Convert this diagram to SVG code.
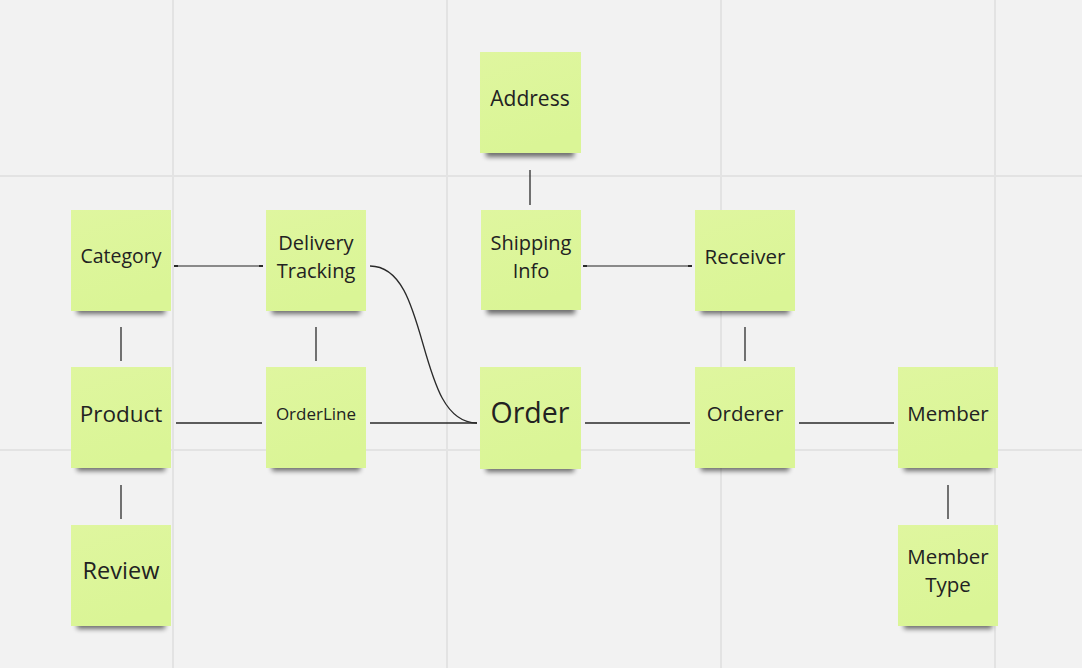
<svg xmlns="http://www.w3.org/2000/svg" width="1082" height="668" viewBox="0 0 1082 668">
<style>
.grid{stroke:#e3e3e3;stroke-width:2}
.note{fill:url(#ng)}
.shadow{fill:#000;opacity:0.55;filter:url(#blur)}
.lbl{font-family:"Open Sans","Noto Sans","Liberation Sans",sans-serif;fill:#222;text-anchor:middle}
.ln{stroke:#2a2a2a;stroke-width:1.3;fill:none}
.gl{stroke:#8a8a8a;stroke-width:2;fill:none;marker-start:url(#cap);marker-end:url(#cap)}
</style>
<defs>
<linearGradient id="ng" x1="0" y1="0" x2="0.3" y2="1">
<stop offset="0" stop-color="#dff69f"/>
<stop offset="1" stop-color="#daf596"/>
</linearGradient>
<filter id="blur" x="-20%" y="-50%" width="140%" height="200%"><feGaussianBlur stdDeviation="2.5"/></filter>
<marker id="cap" viewBox="0 0 4 2" refX="2" refY="1" markerWidth="2" markerHeight="1" orient="auto"><rect x="0" y="0" width="4" height="2" fill="#2a2a2a"/></marker>
</defs>
<rect width="1082" height="668" fill="#f2f2f2"/>
<g id="grid">
<line class="grid" x1="173" y1="0" x2="173" y2="668"/>
<line class="grid" x1="447" y1="0" x2="447" y2="668"/>
<line class="grid" x1="721" y1="0" x2="721" y2="668"/>
<line class="grid" x1="995" y1="0" x2="995" y2="668"/>
<line class="grid" x1="0" y1="176" x2="1082" y2="176"/>
<line class="grid" x1="0" y1="450" x2="1082" y2="450"/>
</g>
<g id="connectors">
<line class="ln" x1="530" y1="170" x2="530" y2="205"/>
<line class="gl" x1="176" y1="266" x2="261" y2="266"/>
<line class="gl" x1="585" y1="266" x2="690" y2="266"/>
<line class="ln" x1="121" y1="327" x2="121" y2="361"/>
<line class="ln" x1="316" y1="327" x2="316" y2="361"/>
<line class="ln" x1="745" y1="327" x2="745" y2="361"/>
<line class="ln" x1="176" y1="423" x2="262" y2="423"/>
<line class="ln" x1="370" y1="423" x2="477" y2="423"/>
<line class="ln" x1="585" y1="423" x2="690" y2="423"/>
<line class="ln" x1="799" y1="423" x2="894" y2="423"/>
<line class="ln" x1="121" y1="485" x2="121" y2="519"/>
<line class="ln" x1="948" y1="485" x2="948" y2="519"/>
<path class="ln" d="M370,266 C432,266 414,423 477,423"/>
</g>
<g id="address"><rect class="shadow" x="486" y="141" width="88" height="16"/><rect class="note" x="480" y="52" width="101" height="101"/><text class="lbl" x="530" y="106" font-size="21">Address</text></g>
<g id="category"><rect class="shadow" x="77" y="298" width="88" height="16"/><rect class="note" x="71" y="210" width="100" height="101"/><text class="lbl" x="121" y="263" font-size="19.5">Category</text></g>
<g id="delivery-tracking"><rect class="shadow" x="272" y="298" width="88" height="16"/><rect class="note" x="266" y="210" width="100" height="101"/><text class="lbl" x="316" y="250" font-size="20">Delivery</text><text class="lbl" x="316" y="278" font-size="20">Tracking</text></g>
<g id="shipping-info"><rect class="shadow" x="487" y="298" width="88" height="16"/><rect class="note" x="481" y="210" width="100" height="100"/><text class="lbl" x="531" y="250" font-size="20">Shipping</text><text class="lbl" x="531" y="278" font-size="20">Info</text></g>
<g id="receiver"><rect class="shadow" x="701" y="298" width="88" height="16"/><rect class="note" x="695" y="210" width="100" height="101"/><text class="lbl" x="745" y="264" font-size="20.5">Receiver</text></g>
<g id="product"><rect class="shadow" x="77" y="455" width="88" height="16"/><rect class="note" x="71" y="367" width="100" height="101"/><text class="lbl" x="121" y="422" font-size="22.5">Product</text></g>
<g id="orderline"><rect class="shadow" x="272" y="455" width="88" height="16"/><rect class="note" x="266" y="367" width="100" height="101"/><text class="lbl" x="316" y="420" font-size="17">OrderLine</text></g>
<g id="order"><rect class="shadow" x="486" y="456" width="88" height="16"/><rect class="note" x="480" y="367" width="101" height="102"/><text class="lbl" x="530" y="423" font-size="28.5">Order</text></g>
<g id="orderer"><rect class="shadow" x="701" y="455" width="88" height="16"/><rect class="note" x="695" y="367" width="100" height="101"/><text class="lbl" x="745" y="421" font-size="20.5">Orderer</text></g>
<g id="member"><rect class="shadow" x="904" y="455" width="88" height="16"/><rect class="note" x="898" y="367" width="100" height="101"/><text class="lbl" x="948" y="421" font-size="20.5">Member</text></g>
<g id="review"><rect class="shadow" x="77" y="613" width="88" height="16"/><rect class="note" x="71" y="525" width="100" height="101"/><text class="lbl" x="121" y="579" font-size="23.5">Review</text></g>
<g id="member-type"><rect class="shadow" x="904" y="613" width="88" height="16"/><rect class="note" x="898" y="525" width="100" height="101"/><text class="lbl" x="948" y="564" font-size="20.5">Member</text><text class="lbl" x="948" y="592" font-size="20.5">Type</text></g>
</svg>
